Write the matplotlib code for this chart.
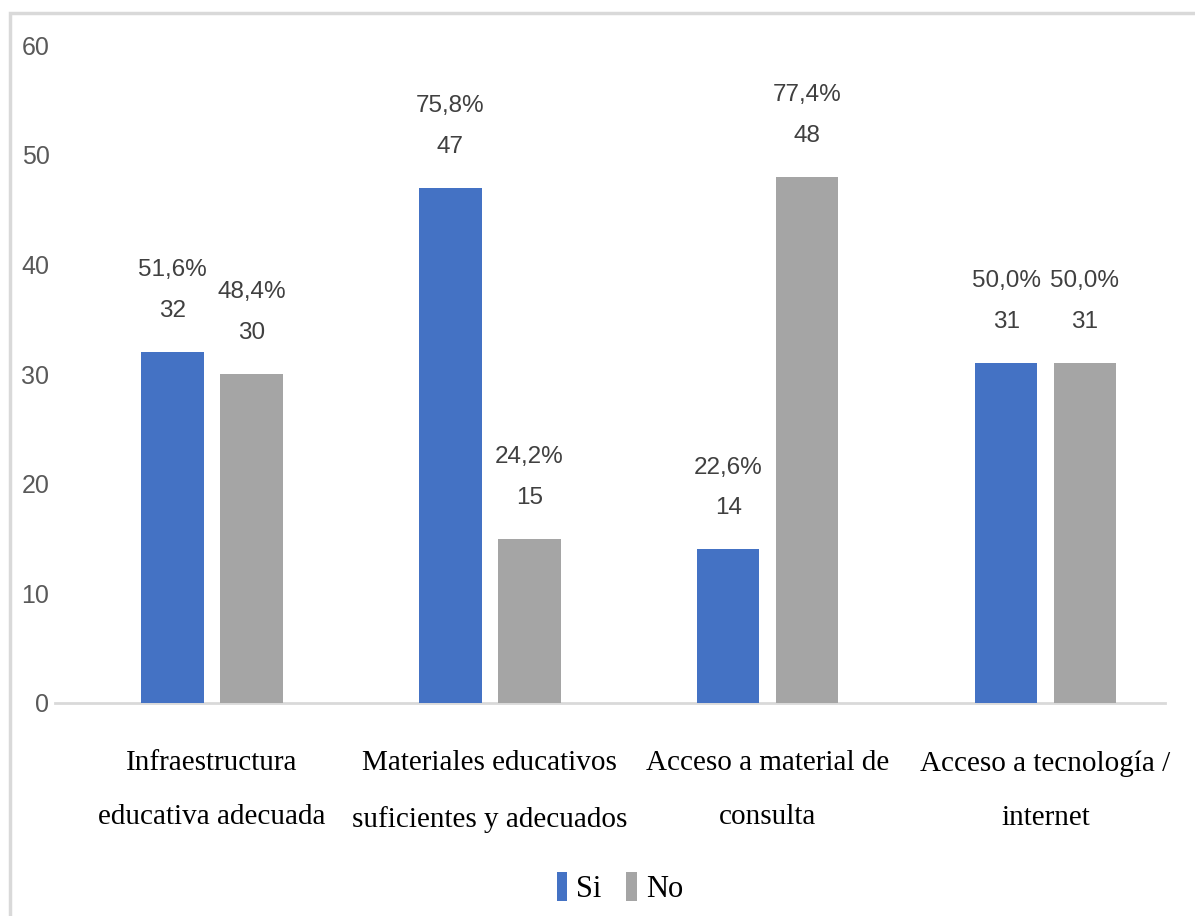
import matplotlib
matplotlib.use("Agg")
import matplotlib.pyplot as plt
from matplotlib import font_manager
from matplotlib.patches import Rectangle
import numpy as np

# data
categories = ["Infraestructura\neducativa adecuada",
              "Materiales educativos\nsuficientes y adecuados",
              "Acceso a material de\nconsulta",
              "Acceso a tecnología /\ninternet"]
si_counts = [32, 47, 14, 31]
no_counts = [30, 15, 48, 31]
si_pct = ["51,6%", "75,8%", "22,6%", "50,0%"]
no_pct = ["48,4%", "24,2%", "77,4%", "50,0%"]
yticks = [0, 10, 20, 30, 40, 50, 60]

BLUE = "#4472C4"
GRAY = "#A5A5A5"

installed = {f.name for f in font_manager.fontManager.ttflist}
if "Liberation Sans Narrow" in installed:
    num_font = ["Liberation Sans Narrow", "DejaVu Sans"]
    num_size, tick_size = 21, 21
else:
    num_font = ["Liberation Sans", "DejaVu Sans"]
    num_size, tick_size = 17.5, 18
serif_font = ["Liberation Serif", "DejaVu Serif"]

W, H = 1195, 916
fig = plt.figure(figsize=(W / 100, H / 100), dpi=100)
ax = fig.add_axes([55 / W, 1 - 703 / H, (1165 - 55) / W, (703 - 45) / H])

# outer chart border (light gray, runs off the right and bottom edges)
fig.patches.append(Rectangle((10 / W, -0.1), 1.2, 1 - 13 / H + 0.1,
                             transform=fig.transFigure, fill=False,
                             edgecolor="#D9D9D9", linewidth=2.5, zorder=0))

x = np.arange(len(categories))
bw = 0.225
off = 0.142
bars_si = ax.bar(x - off, si_counts, bw, color=BLUE, label="Si", zorder=3)
bars_no = ax.bar(x + off, no_counts, bw, color=GRAY, label="No", zorder=3)

for bars, pcts in ((bars_si, si_pct), (bars_no, no_pct)):
    for b, p in zip(bars, pcts):
        ax.annotate("%s\n%d" % (p, b.get_height()),
                    (b.get_x() + b.get_width() / 2, b.get_height()),
                    xytext=(0, 30), textcoords="offset pixels",
                    ha="center", va="bottom", fontsize=num_size,
                    family=num_font, color="#404040", linespacing=2.1)

ax.set_xlim(-0.565, 3.43)
ax.set_ylim(0, 60)
ax.set_yticks(yticks)
ax.set_yticklabels([str(t) for t in yticks], family=num_font,
                   fontsize=tick_size, color="#595959")
ax.set_xticks(x)
ax.set_xticklabels(categories, family=serif_font, fontsize=21,
                   color="black", linespacing=2.4)
ax.tick_params(axis="both", length=0)
ax.tick_params(axis="x", pad=34)
ax.tick_params(axis="y", pad=4)

for s in ("left", "right", "top"):
    ax.spines[s].set_visible(False)
ax.spines["bottom"].set_color("#D9D9D9")
ax.spines["bottom"].set_linewidth(2)

ax.legend(loc="center", bbox_to_anchor=(620 / W, 1 - 888 / H),
          bbox_transform=fig.transFigure, ncol=2, frameon=False,
          prop={"family": serif_font, "size": 22},
          handlelength=0.35, handleheight=1.1, handletextpad=0.3,
          columnspacing=0.8)

fig.savefig("out.png", dpi=100)
